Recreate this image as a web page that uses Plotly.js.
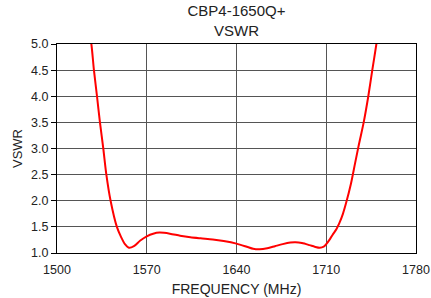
<!DOCTYPE html>
<html>
<head>
<meta charset="utf-8">
<script src="https://cdn.plot.ly/plotly-3.0.1.min.js"></script>
<style>html,body{margin:0;padding:0;background:#fff;}#chart{width:431px;height:298px;}</style>
</head>
<body>
<div id="chart"></div>
<script>
var freqMHz = [1524, 1526.8, 1528.8, 1531.2, 1533.5, 1536.1, 1538.5, 1541.8, 1546.7, 1550.1, 1553, 1556.1, 1560, 1565, 1570, 1575, 1580, 1588, 1596, 1604, 1612, 1621.5, 1630, 1640, 1648, 1653, 1658, 1664, 1670, 1676, 1682, 1686, 1691, 1697, 1701, 1705, 1708, 1710, 1713, 1715, 1718, 1720.2, 1723, 1725.4, 1729.3, 1732.5, 1735.5, 1739.2, 1742.8, 1745.9, 1749.1, 1751];
var vswr    = [5.4, 5.0, 4.5, 4.0, 3.5, 3.0, 2.5, 2.0, 1.5, 1.3, 1.17, 1.1, 1.13, 1.24, 1.32, 1.37, 1.39, 1.37, 1.33, 1.30, 1.28, 1.26, 1.23, 1.18, 1.12, 1.08, 1.07, 1.09, 1.13, 1.17, 1.2, 1.205, 1.19, 1.15, 1.12, 1.10, 1.12, 1.17, 1.27, 1.35, 1.46, 1.57, 1.75, 1.95, 2.33, 2.72, 3.08, 3.5, 4.0, 4.5, 5.0, 5.35];
var xTicks = [1500, 1570, 1640, 1710, 1780];
var yTicks = [1.0, 1.5, 2.0, 2.5, 3.0, 3.5, 4.0, 4.5, 5.0];

var trace = {
  x: freqMHz, y: vswr, type: 'scatter', mode: 'lines',
  line: {color: '#ff0000', width: 2, shape: 'spline', smoothing: 0.8},
  hoverinfo: 'skip'
};
var font = {family: '"Liberation Sans", Arial, Helvetica, sans-serif', color: '#222', size: 12};
var layout = {
  width: 431, height: 298,
  margin: {l: 57, r: 15, t: 44, b: 45},
  paper_bgcolor: '#fff', plot_bgcolor: '#fff',
  font: font,
  showlegend: false,
  title: {text: 'CBP4-1650Q+<br>VSWR', font: {family: font.family, size: 15, color: '#222'},
          x: 0.5, xref: 'paper', xanchor: 'center', y: 1 - 16 / 298, yref: 'container', yanchor: 'middle'},
  xaxis: {
    range: [1500, 1780], tickvals: xTicks, ticktext: xTicks.map(String),
    showgrid: true, gridcolor: '#555', gridwidth: 1,
    showline: true, linecolor: '#000', linewidth: 1, mirror: true,
    ticks: 'outside', ticklen: 5, tickcolor: 'rgba(0,0,0,0)', zeroline: false,
    tickfont: {size: 12.5, color: '#222'},
    title: {text: 'FREQUENCY (MHz)', font: {size: 14, color: '#222'}, standoff: 8}
  },
  yaxis: {
    range: [1.0, 5.0], tickvals: yTicks, ticktext: yTicks.map(function(v){return v.toFixed(1);}),
    showgrid: true, gridcolor: '#555', gridwidth: 1,
    showline: true, linecolor: '#000', linewidth: 1, mirror: true,
    ticks: 'outside', ticklen: 5, tickcolor: '#000', zeroline: false,
    tickfont: {size: 12.5, color: '#222'},
    title: {text: 'VSWR', font: {size: 13, color: '#222'}, standoff: 5}
  }
};
Plotly.newPlot('chart', [trace], layout, {staticPlot: true, displayModeBar: false});
</script>
</body>
</html>
